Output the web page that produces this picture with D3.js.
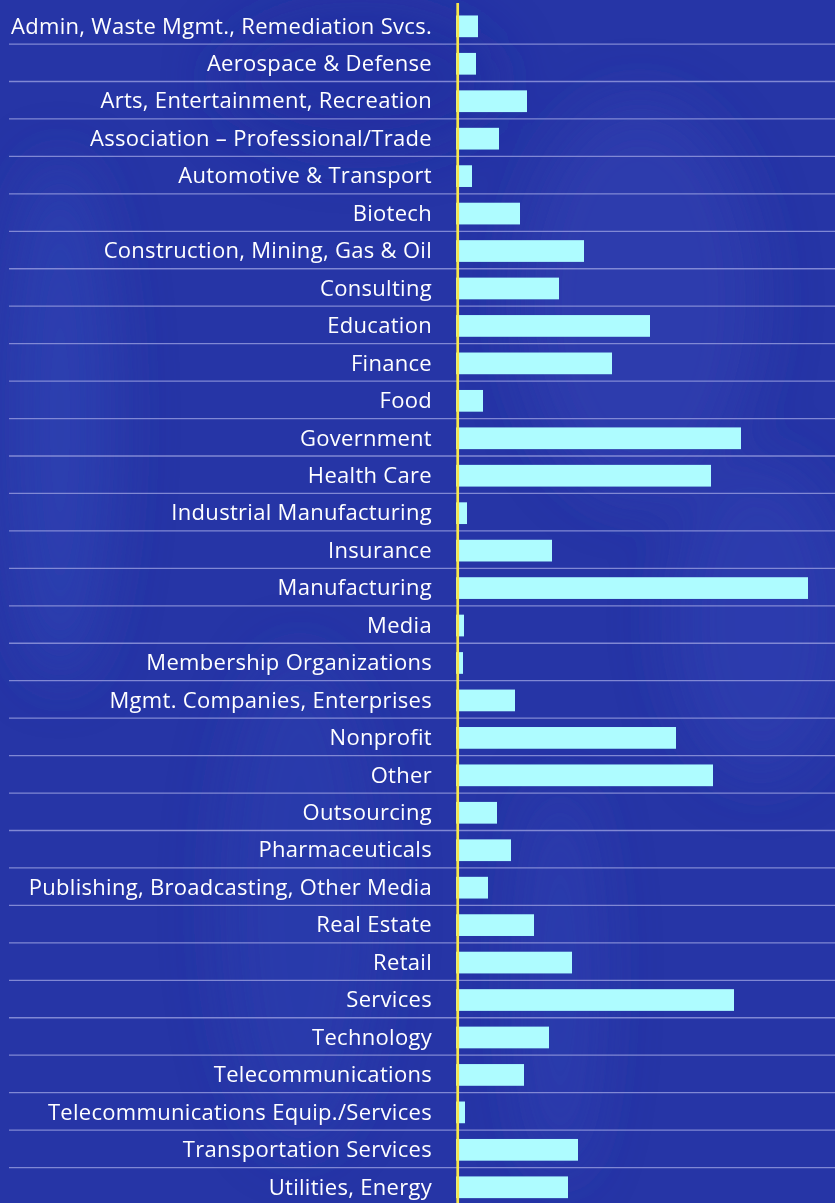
<!DOCTYPE html>
<html>
<head>
<meta charset="utf-8">
<script src="https://cdn.jsdelivr.net/npm/d3@7"></script>
<style>
  html, body { margin: 0; padding: 0; background: #2635a6; }
  svg { display: block; }
</style>
</head>
<body>
<div class="chart-holder"></div>
<script>
const industries = [
  "Admin, Waste Mgmt., Remediation Svcs.",
  "Aerospace & Defense",
  "Arts, Entertainment, Recreation",
  "Association \u2013 Professional/Trade",
  "Automotive & Transport",
  "Biotech",
  "Construction, Mining, Gas & Oil",
  "Consulting",
  "Education",
  "Finance",
  "Food",
  "Government",
  "Health Care",
  "Industrial Manufacturing",
  "Insurance",
  "Manufacturing",
  "Media",
  "Membership Organizations",
  "Mgmt. Companies, Enterprises",
  "Nonprofit",
  "Other",
  "Outsourcing",
  "Pharmaceuticals",
  "Publishing, Broadcasting, Other Media",
  "Real Estate",
  "Retail",
  "Services",
  "Technology",
  "Telecommunications",
  "Telecommunications Equip./Services",
  "Transportation Services",
  "Utilities, Energy"
]

// no axis ticks shown so units are relative
const counts = [
  21, 19, 70, 42, 15, 63, 127, 102, 193, 155, 26, 284, 254, 10, 95, 351,
  7, 6, 58, 219, 256, 40, 54, 31, 77, 115, 277, 92, 67, 8, 121, 111
]

const width = 835
const height = 1203

const svg = d3.select('.chart-holder').append('svg')
  .attr('width', width)
  .attr('height', height)

const defs = svg.append('defs')
defs.append('filter').attr('id', 'soft')
  .attr('x', '-50%').attr('y', '-50%').attr('width', '200%').attr('height', '200%')
  .append('feGaussianBlur').attr('stdDeviation', 28)

// background, with a few soft patches standing in for the faded photo
svg.append('rect')
  .attr('width', width)
  .attr('height', height)
  .attr('fill', '#2635a6')

const patches = svg.append('g').attr('filter', 'url(#soft)')
patches.append('ellipse').attr('cx', 60).attr('cy', 420).attr('rx', 55).attr('ry', 260).attr('fill', '#3142b4').attr('opacity', 0.7)
patches.append('ellipse').attr('cx', 640).attr('cy', 300).attr('rx', 120).attr('ry', 200).attr('fill', '#3041b3').attr('opacity', 0.6)
patches.append('ellipse').attr('cx', 760).attr('cy', 620).attr('rx', 90).attr('ry', 160).attr('fill', '#3142b5').attr('opacity', 0.5)
patches.append('ellipse').attr('cx', 300).attr('cy', 900).attr('rx', 80).attr('ry', 250).attr('fill', '#2f3fb2').attr('opacity', 0.45)
patches.append('ellipse').attr('cx', 560).attr('cy', 980).attr('rx', 40).attr('ry', 200).attr('fill', '#3243b6').attr('opacity', 0.5)
patches.append('ellipse').attr('cx', 360).attr('cy', 80).attr('rx', 140).attr('ry', 70).attr('fill', '#1f2c9e').attr('opacity', 0.6)

const y = d3.scaleBand()
  .domain(industries)
  .range([7.6, 1206])
  .paddingInner(0.42)
  .paddingOuter(0.21)

const x = d3.scaleLinear()
  .domain([0, 351])
  .range([457, 808])

const gap = (y.step() - y.bandwidth()) / 2

// row separators
svg.append('g').selectAll('line')
  .data(industries.slice(1))
  .enter()
  .append('line')
  .attr('x1', 9)
  .attr('x2', width)
  .attr('y1', d => y(d) - gap - 1)
  .attr('y2', d => y(d) - gap - 1)
  .attr('stroke', '#9097dc')
  .attr('stroke-opacity', 0.85)
  .attr('stroke-width', 1.3)

svg.append('g').selectAll('rect')
  .data(industries)
  .enter()
  .append('rect')
  .attr('x', x(0) - 1)
  .attr('y', d => y(d))
  .attr('width', (d, i) => x(counts[i]) - x(0) + 1)
  .attr('height', y.bandwidth())
  .attr('fill', '#aefcff')

svg.append('g').selectAll('text')
  .data(industries)
  .enter()
  .append('text')
  .attr('x', 432)
  .attr('y', d => y(d) + y.bandwidth() / 2)
  .attr('dy', '0.33em')
  .attr('text-anchor', 'end')
  .attr('fill', '#ffffff')
  .style('font-family', '"Open Sans", sans-serif')
  .style('font-size', '22px')
  .style('letter-spacing', '0.3px')
  .text(d => d)

// yellow baseline
svg.append('line')
  .attr('x1', 457.7)
  .attr('x2', 457.7)
  .attr('y1', 3)
  .attr('y2', height)
  .attr('stroke', '#f8e64c')
  .attr('stroke-width', 2.7)
</script>
</body>
</html>
